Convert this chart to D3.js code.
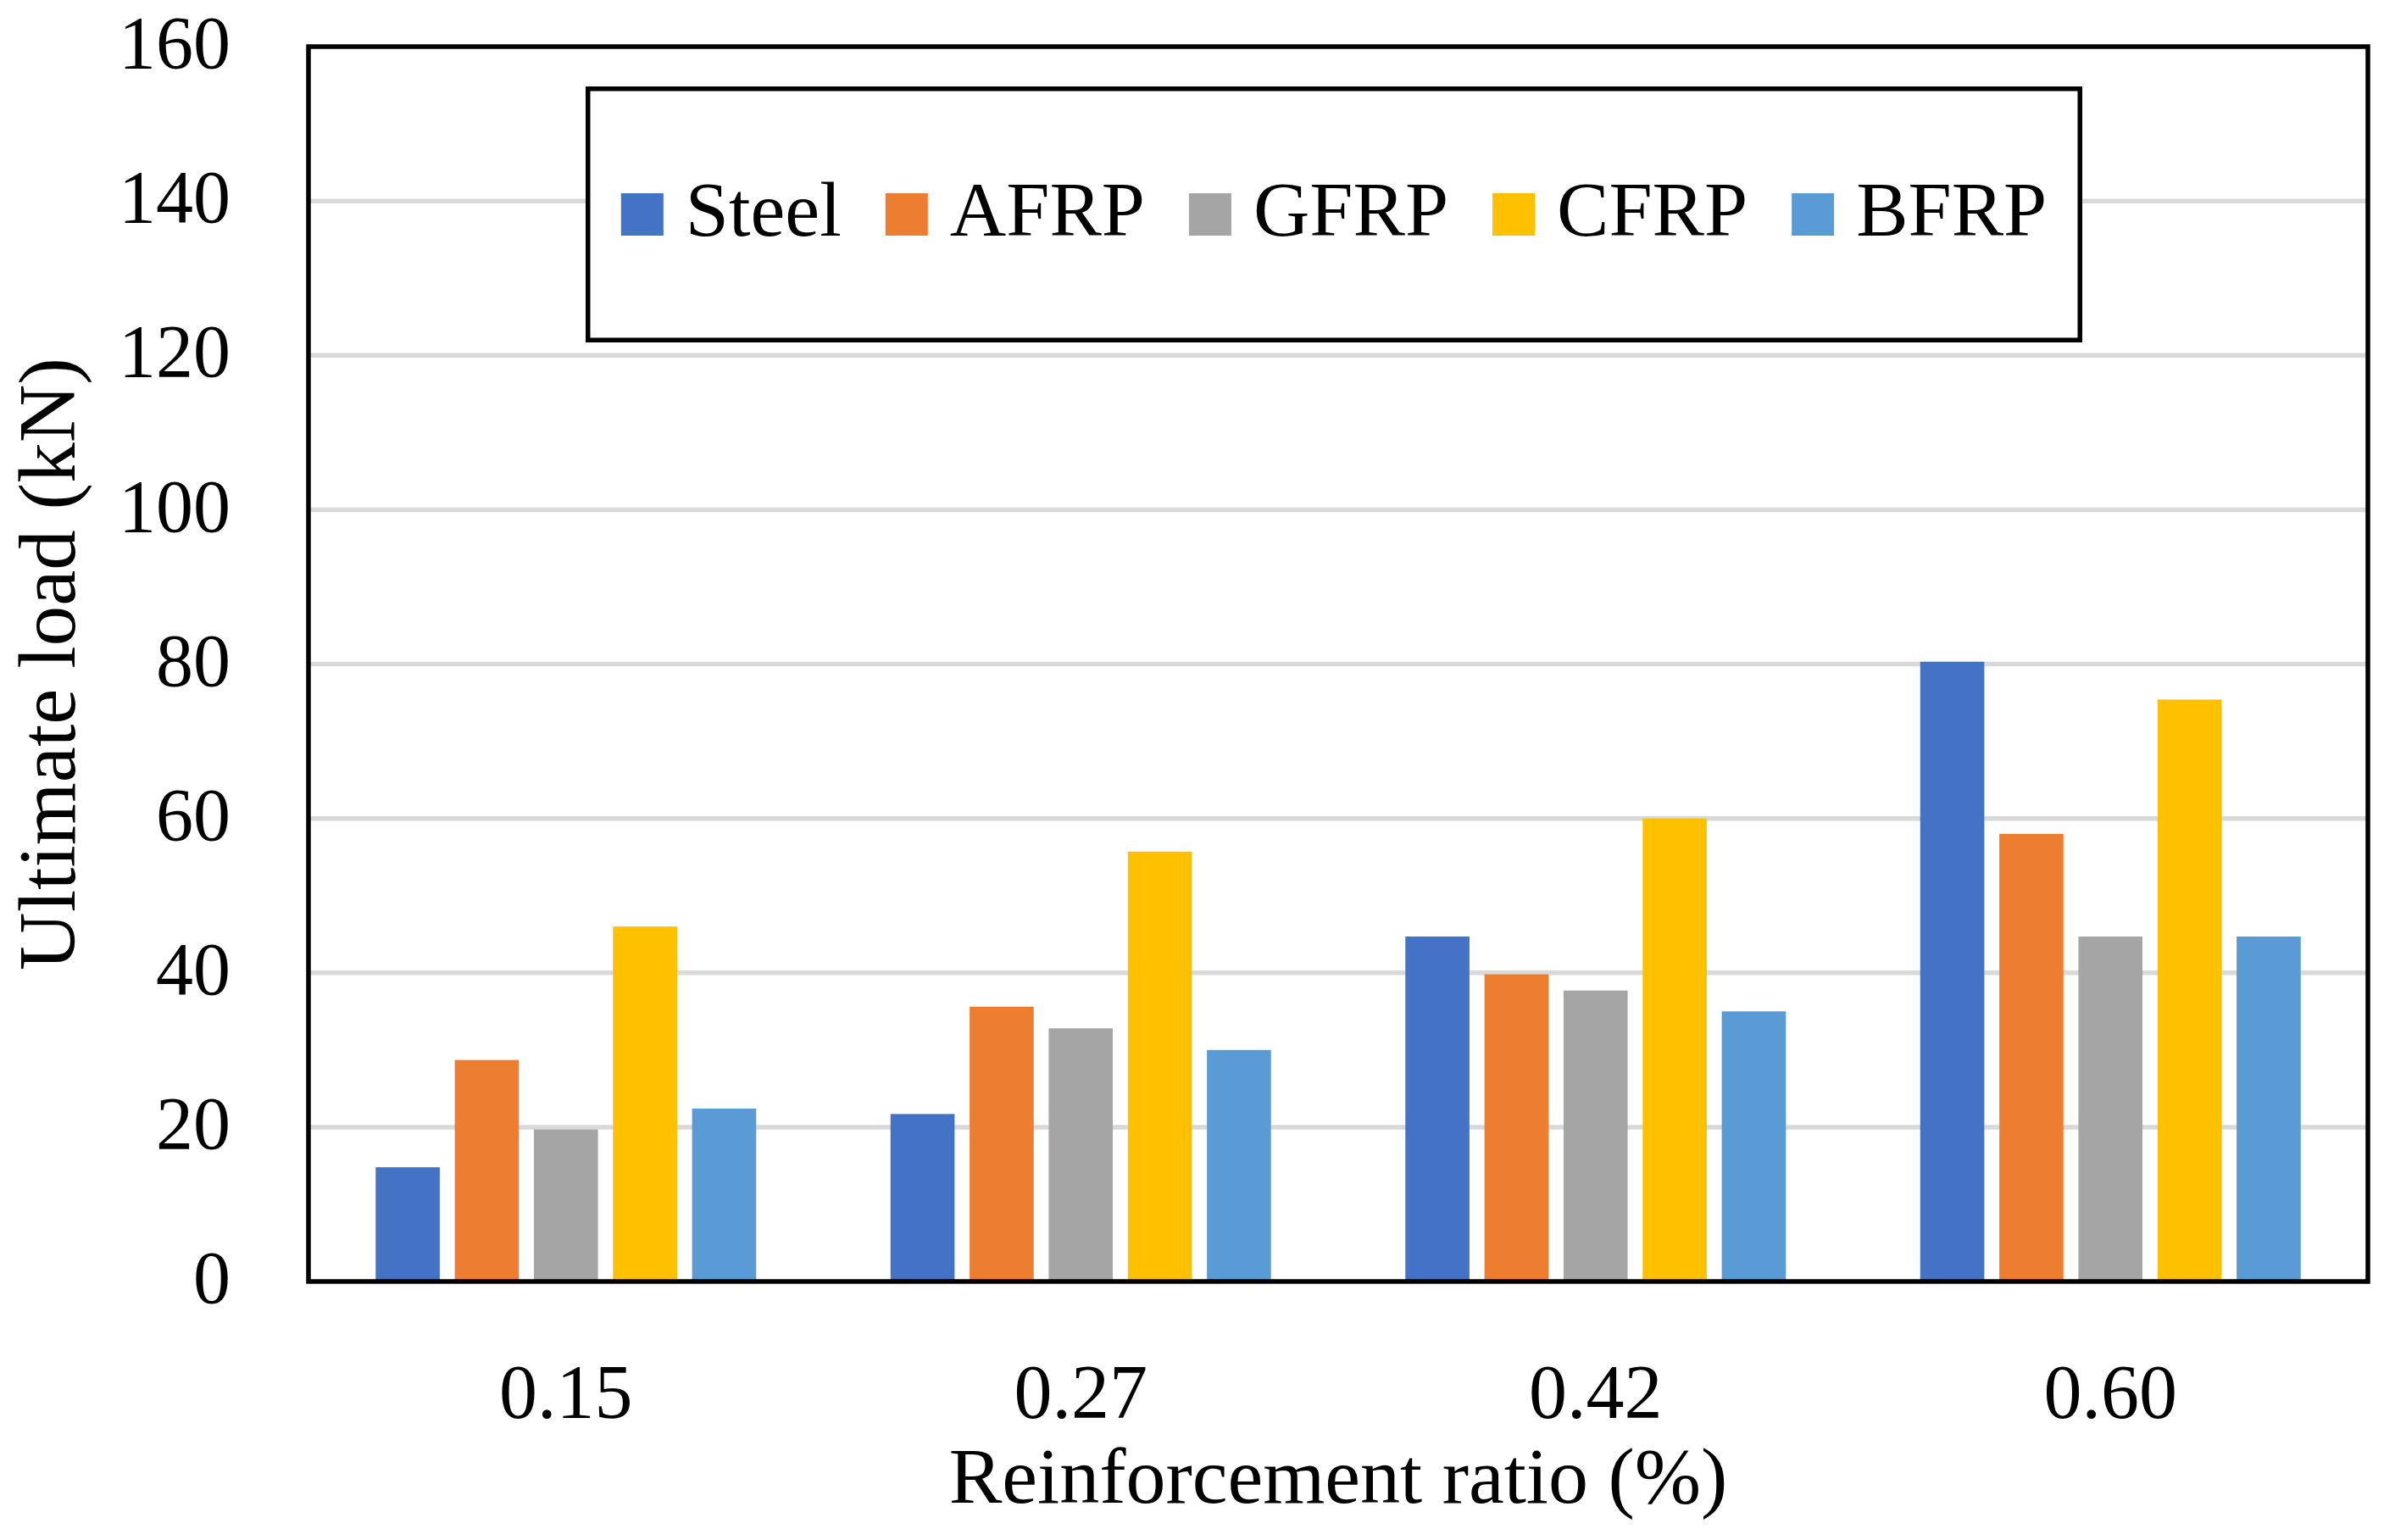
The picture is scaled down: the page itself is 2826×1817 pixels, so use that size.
<!DOCTYPE html>
<html>
<head>
<meta charset="utf-8">
<script src="https://cdn.jsdelivr.net/npm/d3@7"></script>
<style>
  html, body { margin: 0; padding: 0; background: #fff; }
  svg { display: block; }
  text { font-family: "Liberation Serif", "Times New Roman", serif; fill: #000; }
</style>
</head>
<body>
<svg id="chart" width="2826" height="1817"></svg>
<script>
// ---- data ----
const categories = ["0.15", "0.27", "0.42", "0.60"];
const seriesNames = ["Steel", "AFRP", "GFRP", "CFRP", "BFRP"];
const steel = [14.8, 21.7, 44.7, 80.3];
const afrp  = [28.7, 35.6, 39.8, 58.0];
const gfrp  = [19.7, 32.8, 37.7, 44.7];
const cfrp  = [46.0, 55.7, 60.0, 75.4];
const bfrp  = [22.4, 30.0, 35.0, 44.7];
const yTicks = [0, 20, 40, 60, 80, 100, 120, 140, 160];
const colors = ["#4472C4", "#ED7D31", "#A5A5A5", "#FFC000", "#5B9BD5"];
const yTitle = "Ultimate load (kN)";
const xTitle = "Reinforcement ratio (%)";

const seriesValues = [steel, afrp, gfrp, cfrp, bfrp];
const rows = categories.map((c, i) => ({
  cat: c,
  vals: seriesNames.map((s, j) => ({ name: s, value: seriesValues[j][i], color: colors[j] }))
}));

// ---- layout ----
const svg = d3.select("#chart");
const pL = 364, pR = 2794, pT = 55, pB = 1512;

const x0 = d3.scaleBand().domain(categories).range([pL, pR])
  .paddingInner(0.261).paddingOuter(0.1305);
const x1 = d3.scaleBand().domain(seriesNames).range([0, x0.bandwidth()])
  .paddingInner(0.19).paddingOuter(0);
const y = d3.scaleLinear().domain([0, 160]).range([pB, pT]);

// gridlines
svg.append("g").selectAll("line")
  .data(yTicks.filter(t => t > 0 && t < 160))
  .join("line")
  .attr("x1", pL).attr("x2", pR)
  .attr("y1", d => y(d)).attr("y2", d => y(d))
  .attr("stroke", "#D9D9D9").attr("stroke-width", 5.5);

// bars
const groups = svg.append("g").selectAll("g")
  .data(rows).join("g")
  .attr("transform", d => `translate(${x0(d.cat)},0)`);
groups.selectAll("rect")
  .data(d => d.vals).join("rect")
  .attr("x", d => x1(d.name))
  .attr("width", x1.bandwidth())
  .attr("y", d => y(d.value))
  .attr("height", d => y(0) - y(d.value))
  .attr("fill", d => d.color);

// y axis labels
const yAxis = svg.append("g")
  .attr("transform", `translate(${pL},0)`)
  .call(d3.axisLeft(y).tickValues(yTicks).tickSize(0).tickPadding(92));
yAxis.select(".domain").remove();
yAxis.selectAll("text")
  .style("font-family", '"Liberation Serif", "Times New Roman", serif')
  .attr("font-size", 88).attr("dy", "0.28em").attr("fill", "#000");

// x axis labels
const xAxis = svg.append("g")
  .attr("transform", `translate(0,${pB})`)
  .call(d3.axisBottom(x0).tickSize(0).tickPadding(97));
xAxis.select(".domain").remove();
xAxis.selectAll("text")
  .style("font-family", '"Liberation Serif", "Times New Roman", serif')
  .attr("font-size", 90).attr("fill", "#000");

// plot frame
svg.append("rect")
  .attr("x", pL).attr("y", pT)
  .attr("width", pR - pL).attr("height", pB - pT)
  .attr("fill", "none").attr("stroke", "#000").attr("stroke-width", 5.5);

// axis titles
svg.append("text")
  .attr("x", (pL + pR) / 2).attr("y", 1773)
  .attr("text-anchor", "middle").attr("font-size", 94)
  .text(xTitle);
svg.append("text")
  .attr("transform", `translate(88,${(pT + pB) / 2}) rotate(-90)`)
  .attr("text-anchor", "middle").attr("font-size", 95)
  .text(yTitle);

// legend
const lgX = 691, lgY = 102, lgW = 1766, lgH = 302;
svg.append("rect")
  .attr("x", lgX + 2.75).attr("y", lgY + 2.75)
  .attr("width", lgW - 5.5).attr("height", lgH - 5.5)
  .attr("fill", "#fff").attr("stroke", "#000").attr("stroke-width", 5.5);

const sw = 50, swGap = 26, itemGap = 52;
const lg = svg.append("g");
const items = lg.selectAll("g").data(seriesNames).join("g");
items.append("rect")
  .attr("width", sw).attr("height", sw)
  .attr("y", -sw / 2)
  .attr("fill", (d, i) => colors[i]);
items.append("text")
  .attr("x", sw + swGap).attr("y", sw / 2)
  .attr("font-size", 92)
  .text(d => d);
let cx = 0;
const offsets = [];
items.each(function() {
  const w = sw + swGap + d3.select(this).select("text").node().getComputedTextLength();
  offsets.push(cx);
  cx += w + itemGap;
});
const total = cx - itemGap;
const startX = lgX + lgW / 2 - total / 2;
const midY = lgY + lgH / 2;
items.attr("transform", (d, i) => `translate(${startX + offsets[i]},${midY})`);
</script>
</body>
</html>
